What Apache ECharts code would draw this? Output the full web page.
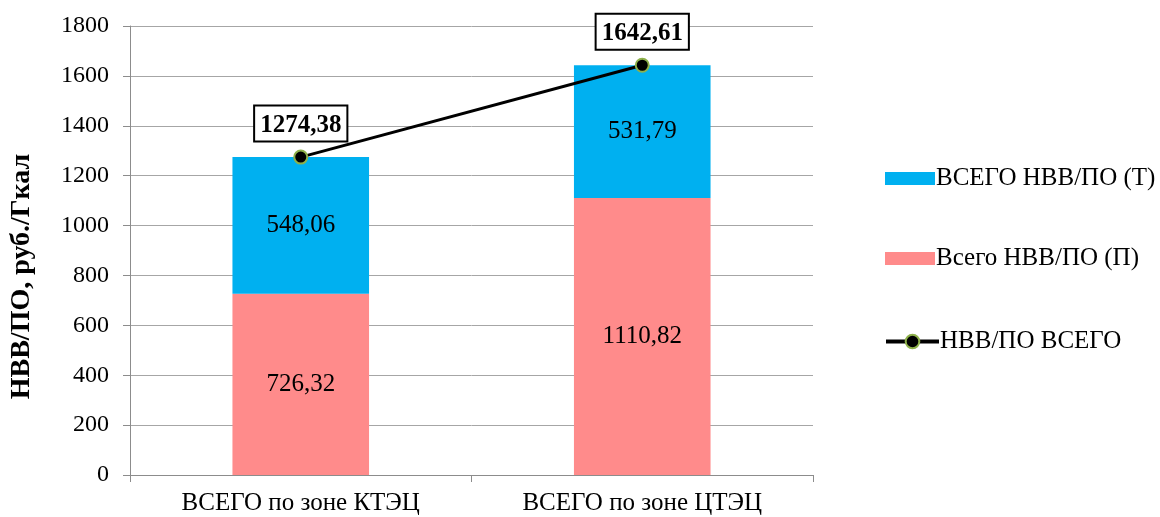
<!DOCTYPE html>
<html>
<head>
<meta charset="utf-8">
<script src="https://cdn.jsdelivr.net/npm/echarts@6/dist/echarts.min.js"></script>
<style>
  html, body { margin: 0; padding: 0; background: #ffffff; }
  #chart { width: 1160px; height: 517px; }
</style>
</head>
<body>
<div id="chart"></div>
<script>
// Зоны теплоснабжения
const categories = ['ВСЕГО по зоне КТЭЦ', 'ВСЕГО по зоне ЦТЭЦ'];
// НВВ/ПО по составляющим, руб./Гкал
const valuesP = [726.32, 1110.82];   // Всего НВВ/ПО (П)
const valuesT = [548.06, 531.79];    // ВСЕГО НВВ/ПО (Т)
const valuesTotal = [1274.38, 1642.61]; // НВВ/ПО ВСЕГО
const yTicks = { min: 0, max: 1800, interval: 200 };

const FONT = '"Liberation Serif", "Times New Roman", serif';
const FS = 25;
const fmt = v => v.toFixed(2).replace('.', ',');

const chart = echarts.init(document.getElementById('chart'), null, { renderer: 'canvas' });

const legendText = { fontFamily: FONT, fontSize: FS, color: '#000', padding: [0, 0, 0, -4] };

chart.setOption({
  animation: false,
  textStyle: { fontFamily: FONT, color: '#000' },
  grid: { left: 130, right: 347, top: 26, bottom: 42, containLabel: false },
  legend: [
    {
      orient: 'vertical',
      left: 880,
      top: 161,
      itemGap: 55,
      itemWidth: 50,
      itemHeight: 13,
      textStyle: legendText,
      data: [
        { name: 'ВСЕГО НВВ/ПО (Т)', icon: 'rect' },
        { name: 'Всего НВВ/ПО (П)', icon: 'rect' }
      ]
    },
    {
      orient: 'vertical',
      left: 879,
      top: 324,
      itemWidth: 53,
      itemHeight: 17,
      textStyle: legendText,
      data: [{ name: 'НВВ/ПО ВСЕГО', lineStyle: { width: 4 } }]
    }
  ],
  xAxis: {
    type: 'category',
    data: categories,
    axisLine: { show: true, lineStyle: { color: '#8c8c8c', width: 1 } },
    axisTick: { show: true, alignWithLabel: false, length: 7, lineStyle: { color: '#8c8c8c' } },
    axisLabel: { fontFamily: FONT, fontSize: FS, color: '#000', margin: 16 },
    splitLine: { show: false }
  },
  yAxis: {
    type: 'value',
    min: yTicks.min,
    max: yTicks.max,
    interval: yTicks.interval,
    name: 'НВВ/ПО, руб./Гкал',
    nameLocation: 'middle',
    nameGap: 94,
    nameTextStyle: {
      fontFamily: FONT, fontSize: 28, fontWeight: 'bold', color: '#000',
      padding: [0, 52, 0, 0]
    },
    axisLine: { show: true, lineStyle: { color: '#8c8c8c', width: 1 } },
    axisTick: { show: true, length: 7, lineStyle: { color: '#8c8c8c' } },
    axisLabel: { fontFamily: FONT, fontSize: 24, color: '#000', margin: 21, formatter: v => String(v) },
    splitLine: { show: true, lineStyle: { color: '#a6a6a6', width: 1 } }
  },
  series: [
    {
      name: 'Всего НВВ/ПО (П)',
      type: 'bar',
      stack: 'total',
      barWidth: '40%',
      itemStyle: { color: '#FF8B8B' },
      label: {
        show: true, position: 'inside', fontFamily: FONT, fontSize: FS, color: '#000',
        formatter: p => fmt(p.value)
      },
      data: valuesP
    },
    {
      name: 'ВСЕГО НВВ/ПО (Т)',
      type: 'bar',
      stack: 'total',
      barWidth: '40%',
      itemStyle: { color: '#00B0F0' },
      label: {
        show: true, position: 'inside', fontFamily: FONT, fontSize: FS, color: '#000',
        formatter: p => fmt(p.value)
      },
      data: valuesT
    },
    {
      name: 'НВВ/ПО ВСЕГО',
      type: 'line',
      symbol: 'circle',
      symbolSize: 13,
      z: 5,
      lineStyle: { color: '#000', width: 3 },
      itemStyle: { color: '#000', borderColor: '#8DB04A', borderWidth: 2 },
      label: {
        show: true, position: 'top', distance: 9,
        fontFamily: FONT, fontSize: FS, fontWeight: 'bold', color: '#000',
        backgroundColor: '#fff', borderColor: '#000', borderWidth: 2,
        padding: [6, 5, 3, 5],
        formatter: p => fmt(p.value)
      },
      data: valuesTotal
    }
  ]
});
</script>
</body>
</html>
